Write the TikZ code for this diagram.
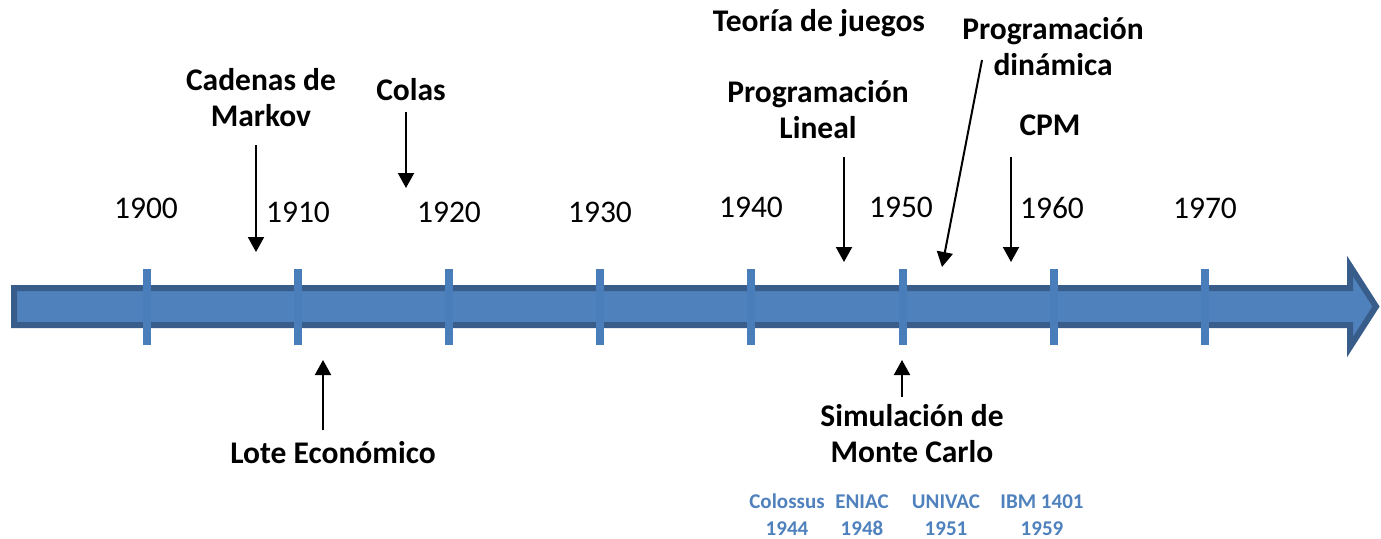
\documentclass[tikz,border=0pt]{standalone}
\usepackage{fontspec}
\setmainfont{Carlito}
\usepackage[HTML]{xcolor}
\usetikzlibrary{arrows.meta}
\definecolor{axisFill}{HTML}{4F81BD}
\definecolor{axisLine}{HTML}{385D8A}
\definecolor{markCol}{HTML}{4A7EBB}

\begin{document}
\begin{tikzpicture}[x=1pt, y=-1pt,
  year/.style={anchor=base, inner sep=0pt, font=\fontsize{31.5}{36}\selectfont},
  event/.style={anchor=base, inner sep=0pt, align=center, font=\fontsize{31.5}{36}\selectfont\bfseries},
  machine/.style={anchor=base, inner sep=0pt, align=center, text=axisFill, font=\fontsize{21}{27}\selectfont\bfseries},
  pointer/.style={line width=2pt, -{Triangle[width=16pt,length=15pt]}}]

\useasboundingbox (0,0) rectangle (1381,538);

% the time axis
\coordinate (T1) at (14,288);
\coordinate (T2) at (1350,288);
\coordinate (T3) at (1350,266);
\coordinate (T4) at (1376,306.5);
\coordinate (T5) at (1350,347);
\coordinate (T6) at (1350,325);
\coordinate (T7) at (14,325);
\filldraw[fill=axisFill, draw=axisLine, line width=6pt, line join=miter] (T1)--(T2)--(T3)--(T4)--(T5)--(T6)--(T7)--cycle;

\fill[markCol] (143,269) rectangle (151,345);
\fill[markCol] (294,269) rectangle (302,345);
\fill[markCol] (445,269) rectangle (453,345);
\fill[markCol] (596,269) rectangle (604,345);
\fill[markCol] (747,269) rectangle (755,345);
\fill[markCol] (899,269) rectangle (907,345);
\fill[markCol] (1050,269) rectangle (1058,345);
\fill[markCol] (1201,269) rectangle (1209,345);

% years
\node[year] (y1900) at (146,218) {1900};
\node[year] (y1910) at (298,222) {1910};
\node[year] (y1920) at (449,222) {1920};
\node[year] (y1930) at (600,222) {1930};
\node[year] (y1940) at (751,217) {1940};
\node[year] (y1950) at (901,217) {1950};
\node[year] (y1960) at (1052,218) {1960};
\node[year] (y1970) at (1205,218) {1970};

% events (base = last line)
\node[event] (markov) at (261,126) {Cadenas de\\Markov};
\node[event] (colas) at (411,100) {Colas};
\node[event] (juegos) at (819,31) {Teoría de juegos};
\node[event] (lineal) at (818,138) {Programación\\Lineal};
\node[event] (dinamica) at (1053,75) {Programación\\dinámica};
\node[event] (cpm) at (1050,135) {CPM};
\node[event] (lote) at (333,463) {Lote Económico};
\node[event] (montecarlo) at (912,462) {Simulación de\\Monte Carlo};

\coordinate (markovFrom) at (256,145);
\coordinate (markovTo) at (256,252);
\coordinate (colasFrom) at (406,112);
\coordinate (colasTo) at (406,188);
\coordinate (linealFrom) at (844,157);
\coordinate (linealTo) at (844,262);
\coordinate (dinamicaFrom) at (982,60);
\coordinate (dinamicaTo) at (942,267);
\coordinate (cpmFrom) at (1011,157);
\coordinate (cpmTo) at (1011,262);
\coordinate (loteFrom) at (323,430);
\coordinate (loteTo) at (323,360);
\coordinate (montecarloFrom) at (902,397);
\coordinate (montecarloTo) at (902,360);
\draw[pointer] (markovFrom) -- (markovTo);
\draw[pointer] (colasFrom) -- (colasTo);
\draw[pointer] (linealFrom) -- (linealTo);
\draw[pointer] (dinamicaFrom) -- (dinamicaTo);
\draw[pointer] (cpmFrom) -- (cpmTo);
\draw[pointer] (loteFrom) -- (loteTo);
\draw[pointer] (montecarloFrom) -- (montecarloTo);

% computers
\node[machine] (colossus) at (787,535) {Colossus\\1944};
\node[machine] (eniac) at (862,535) {ENIAC\\1948};
\node[machine] (univac) at (946,535) {UNIVAC\\1951};
\node[machine] (ibm) at (1042,535) {IBM 1401\\1959};
\end{tikzpicture}
\end{document}
